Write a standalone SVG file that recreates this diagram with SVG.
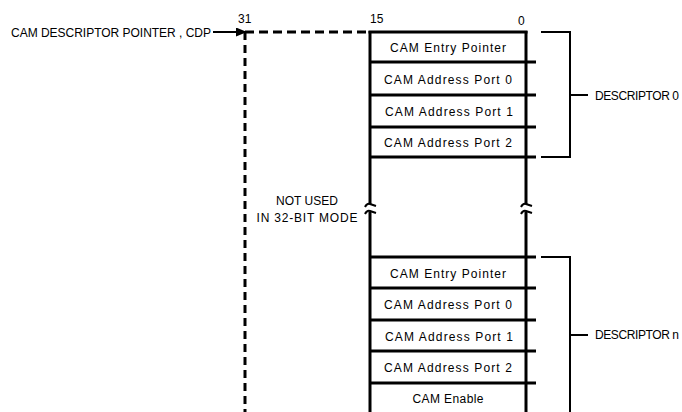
<svg xmlns="http://www.w3.org/2000/svg" width="682" height="412" viewBox="0 0 682 412">
<style>
text{font-family:"Liberation Sans",Arial,sans-serif;fill:#000}
.lbl{font-size:12px}
.row{font-size:12px;text-anchor:middle}
.num{font-size:12px}
.thick{stroke:#000;stroke-width:3;fill:none}
.thin{stroke:#000;stroke-width:2;fill:none}
.dash{stroke:#000;stroke-width:3;fill:none}
</style>
<defs>
<marker id="ah" markerWidth="11" markerHeight="9" refX="10" refY="4.5" orient="auto" markerUnits="userSpaceOnUse">
<path d="M0,0 L11,4.5 L0,9 Z" fill="#000"/>
</marker>
</defs>
<rect width="682" height="412" fill="#fff"/>

<g id="cdp-label">
<text class="lbl" x="11" y="37" textLength="200" lengthAdjust="spacing">CAM DESCRIPTOR POINTER , CDP</text>
</g>
<g id="bit-numbers">
<text class="num" x="238" y="23">31</text>
<text class="num" x="370" y="23">15</text>
<text class="num" x="518" y="25">0</text>
</g>

<g id="connectors">
<path d="M213,32 H246" class="thin" marker-end="url(#ah)"/>
<path d="M245,32 H370" class="dash" stroke-dasharray="9,5"/>
<path d="M245,32 V412" class="dash" stroke-dasharray="8,5"/>
</g>

<g id="register-frame">
<path d="M370,31 V204" class="thick"/>
<path d="M370,212 V412" class="thick"/>
<path d="M526,31 V204" class="thick"/>
<path d="M526,212 V412" class="thick"/>
<path d="M365,207 Q367,203 370,204 T376,206" class="thin"/>
<path d="M365,214 Q367,210 370,211 T376,213" class="thin"/>
<path d="M521,207 Q523,203 526,204 T532,206" class="thin"/>
<path d="M521,214 Q523,210 526,211 T532,213" class="thin"/>
</g>

<g id="descriptor-0-rows">
<path d="M368.5,32 H527.5" class="thick"/>
<path d="M370,62 H536 M370,95 H536 M370,127 H536 M370,157 H536" class="thick"/>
<text class="row" x="448" y="52" textLength="116" lengthAdjust="spacing">CAM Entry Pointer</text>
<text class="row" x="448" y="84" textLength="128" lengthAdjust="spacing">CAM Address Port 0</text>
<text class="row" x="449" y="116" textLength="128" lengthAdjust="spacing">CAM Address Port 1</text>
<text class="row" x="448" y="147" textLength="128" lengthAdjust="spacing">CAM Address Port 2</text>
</g>

<g id="descriptor-0-bracket">
<path d="M541,32 H570 V157 H541 M570,95 H588" class="thin"/>
<text class="lbl" x="595" y="100" textLength="84" lengthAdjust="spacing">DESCRIPTOR 0</text>
</g>

<g id="not-used-label">
<text class="lbl" x="307" y="205" text-anchor="middle">NOT USED</text>
<text class="lbl" x="307" y="222" text-anchor="middle" textLength="101" lengthAdjust="spacing">IN 32-BIT MODE</text>
</g>

<g id="descriptor-n-rows">
<path d="M370,257 H536 M370,288 H536 M370,320 H536 M370,351 H536 M370,383 H536" class="thick"/>
<text class="row" x="448" y="278" textLength="116" lengthAdjust="spacing">CAM Entry Pointer</text>
<text class="row" x="448" y="309" textLength="128" lengthAdjust="spacing">CAM Address Port 0</text>
<text class="row" x="449" y="341" textLength="128" lengthAdjust="spacing">CAM Address Port 1</text>
<text class="row" x="448" y="372" textLength="128" lengthAdjust="spacing">CAM Address Port 2</text>
<text class="row" x="448" y="403" textLength="71" lengthAdjust="spacing">CAM Enable</text>
</g>

<g id="descriptor-n-bracket">
<path d="M541,257 H570 V412 M570,335 H588" class="thin"/>
<text class="lbl" x="595" y="339" textLength="84" lengthAdjust="spacing">DESCRIPTOR n</text>
</g>
</svg>
